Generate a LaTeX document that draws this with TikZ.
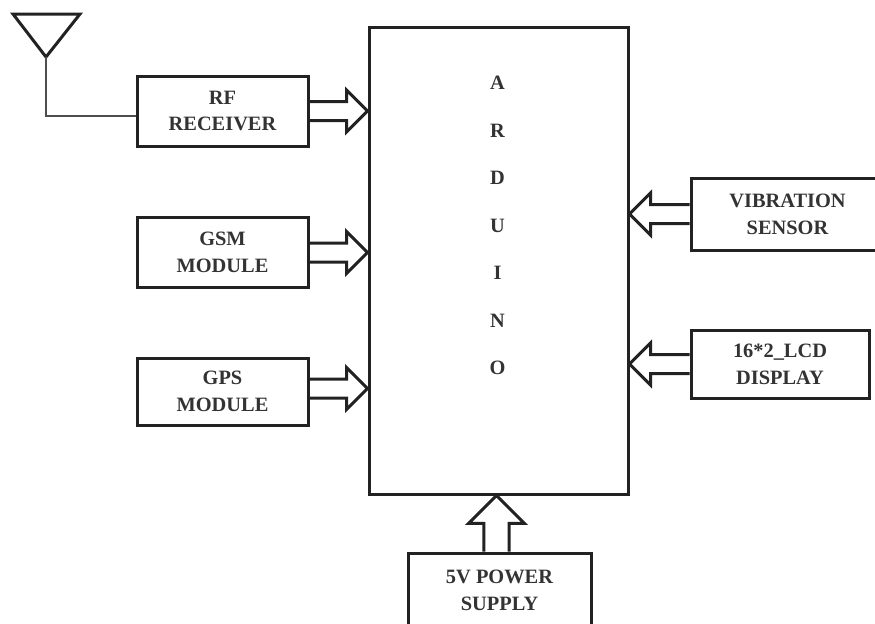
\documentclass[tikz,border=0pt]{standalone}
\usepackage{fontspec}
\usepackage{xcolor}
\setmainfont{Liberation Serif}
\usetikzlibrary{positioning,calc}
\definecolor{inkline}{HTML}{222222}
\definecolor{inktext}{HTML}{333333}
\tikzset{
    block/.style={draw=inkline, line width=0.06cm, minimum width=3.42cm, minimum height=1.4cm,
        inner sep=0pt, align=center, text=inktext, font=\fontsize{11.6}{15.3}\selectfont\bfseries},
    letter/.style={text=inktext, inner sep=0pt, font=\fontsize{11.6}{15.3}\selectfont\bfseries},
    wire/.style={draw=inkline!80, line width=0.025cm}
}
% open block arrow, #3 scales its size
\newcommand{\busarrow}[3]{
    \coordinate (h) at ($(#2)!{0.42cm*#3}!(#1)$);
    \draw[inkline, line width=0.06cm, line join=miter]
        ($(#1)!{0.19cm*#3}!90:(#2)$) -- ($(h)!{0.19cm*#3}!90:(#2)$) -- ($(h)!{0.42cm*#3}!90:(#2)$) -- (#2)
        -- ($(h)!{0.42cm*#3}!-90:(#2)$) -- ($(h)!{0.19cm*#3}!-90:(#2)$) -- ($(#1)!{0.19cm*#3}!-90:(#2)$);
}
\begin{document}
\begin{tikzpicture}[y=-1cm]
    \useasboundingbox (0,0) rectangle (17.5,12.46);

    % Controller with its letters
    \node[block, minimum width=5.18cm, minimum height=9.34cm] (ard) at (9.97,5.21) {};
    \foreach \ch [count=\i from 0] in {A,R,D,U,I,N,O}
        \node[letter] (l\i) at ({9.95},{1.66+0.95*\i}) {\ch};

    % Left column
    \node[block] (rf) at (4.45,2.22) {RF\\RECEIVER};
    \node[block] (gsm) at (4.45,5.05) {GSM\\MODULE};
    \node[block, minimum height=1.34cm] (gps) at (4.45,7.83) {GPS\\MODULE};

    % Right column
    \node[block, minimum width=3.86cm, minimum height=1.44cm] (vib) at (15.75,4.28) {VIBRATION\\SENSOR};
    \node[block, minimum width=3.56cm, minimum height=1.36cm] (lcd) at (15.6,7.28) {16*2\_LCD\\DISPLAY};

    % Supply runs past the bottom edge
    \node[block, minimum width=3.66cm, minimum height=1.5cm] (pwr) at (9.99,11.81) {5V POWER\\SUPPLY};

    % Antenna
    \coordinate (tip) at (0.92,1.14);
    \draw[inkline, line width=0.06cm, line join=miter] (0.26,0.28) -- (1.6,0.28) -- (tip) -- cycle;
    \draw[wire] (tip) |- ([yshift=-0.1cm]rf.west);

    % Arrows into the controller
    \foreach \from in {rf,gsm}
        \busarrow{\from.east}{\from.east -| ard.west}{1}
    \coordinate (gpsout) at ([yshift=0.06cm]gps.east);
    \busarrow{gpsout}{gpsout -| ard.west}{1}
    \foreach \from in {vib,lcd}
        \busarrow{\from.west}{\from.west -| ard.east}{1}
    \coordinate (pwrout) at ([xshift=-0.06cm]pwr.north);
    \busarrow{pwrout}{pwrout |- ard.south}{1.33}
\end{tikzpicture}
\end{document}
